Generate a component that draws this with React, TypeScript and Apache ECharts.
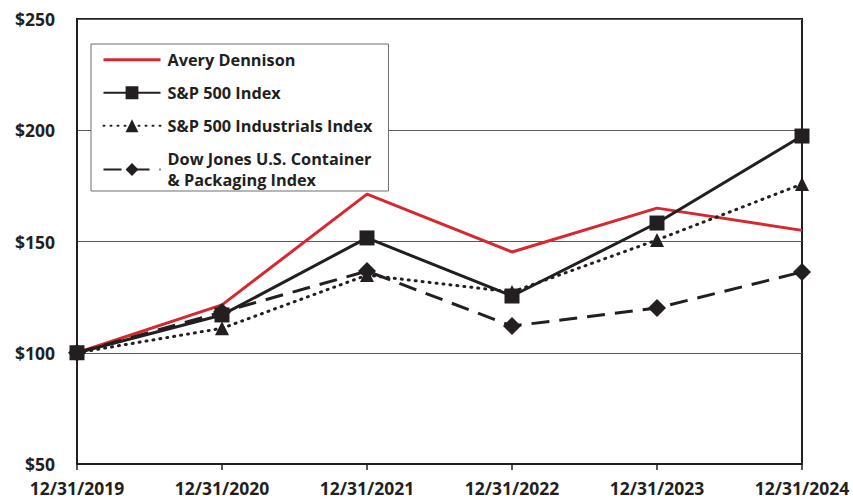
import React, { useEffect, useRef } from "react";
import * as echarts from "echarts";

const categories = ["12/31/2019", "12/31/2020", "12/31/2021", "12/31/2022", "12/31/2023", "12/31/2024"];
const avery = [100, 121.5, 171.3, 145.3, 165, 155];
const sp500 = [100, 117, 151.6, 125.5, 158.3, 197.4];
const spIndustrials = [100, 111, 134.9, 127.3, 150.7, 175.8];
const dowJonesContainer = [100, 118.3, 136.7, 112, 120.1, 136.3];

const FONT = "Open Sans";

export default function App() {
  const ref = useRef<HTMLDivElement>(null);
  useEffect(() => {
    if (!ref.current) return;
    const chart = echarts.init(ref.current, undefined, { renderer: "svg" });
    chart.setOption({
      animation: false,
      backgroundColor: "#ffffff",
      textStyle: { fontFamily: FONT },
      grid: {
        left: 77,
        right: 51,
        top: 19,
        bottom: 38,
        show: true,
        borderColor: "#231f20",
        borderWidth: 2,
        containLabel: false,
      },
      legend: {
        orient: "vertical",
        left: 91,
        top: 44,
        padding: [5, 16, 0, 11],
        itemGap: 11.5,
        itemWidth: 57,
        itemHeight: 16,
        backgroundColor: "#ffffff",
        borderColor: "#6d6e71",
        borderWidth: 1,
        textStyle: {
          fontFamily: FONT,
          fontWeight: "bold",
          fontSize: 16.3,
          color: "#231f20",
          padding: [0, 0, 0, 2],
          lineHeight: 21.5,
        },
        formatter: (name: string) =>
          name === "Dow Jones U.S. Container & Packaging Index"
            ? "Dow Jones U.S. Container\n& Packaging Index"
            : name,
        data: [
          { name: "Avery Dennison", itemStyle: { opacity: 0 }, lineStyle: { width: 3, opacity: 1, color: "#d7282f" } },
          "S&P 500 Index",
          "S&P 500 Industrials Index",
          "Dow Jones U.S. Container & Packaging Index",
        ],
      },
      xAxis: {
        type: "category",
        data: categories,
        boundaryGap: false,
        axisLine: { show: true, lineStyle: { color: "#231f20", width: 2 } },
        axisTick: { show: true, length: 6, lineStyle: { color: "#231f20", width: 1.5 } },
        axisLabel: {
          fontFamily: FONT,
          fontWeight: "bold",
          fontSize: 17.5,
          color: "#231f20",
          margin: 15,
          interval: 0,
        },
        splitLine: { show: false },
      },
      yAxis: {
        type: "value",
        min: 50,
        max: 250,
        interval: 50,
        axisLine: { show: true, lineStyle: { color: "#231f20", width: 2 } },
        axisTick: { show: false },
        axisLabel: {
          fontFamily: FONT,
          fontWeight: "bold",
          fontSize: 17.5,
          color: "#231f20",
          margin: 22,
          formatter: (v: number) => "$" + v,
        },
        splitLine: { show: true, lineStyle: { color: "#58595b", width: 1 } },
      },
      series: [
        {
          name: "Avery Dennison",
          type: "line",
          data: avery,
          symbol: "none",
          z: 2,
          lineStyle: { color: "#d7282f", width: 3 },
          itemStyle: { color: "#d7282f" },
        },
        {
          name: "S&P 500 Index",
          type: "line",
          data: sp500,
          symbol: "rect",
          symbolSize: 15,
          z: 3,
          lineStyle: { color: "#231f20", width: 3 },
          itemStyle: { color: "#231f20" },
        },
        {
          name: "S&P 500 Industrials Index",
          type: "line",
          data: spIndustrials,
          symbol: "triangle",
          symbolSize: 14,
          z: 3,
          lineStyle: { color: "#231f20", width: 3, type: [1, 6], cap: "round" },
          itemStyle: { color: "#231f20" },
        },
        {
          name: "Dow Jones U.S. Container & Packaging Index",
          type: "line",
          data: dowJonesContainer,
          symbol: "diamond",
          symbolSize: 18,
          z: 3,
          lineStyle: { color: "#231f20", width: 3, type: [18, 10] },
          itemStyle: { color: "#231f20" },
        },
      ],
    });
    return () => chart.dispose();
  }, []);
  return (
    <div
      ref={ref}
      style={{ position: "fixed", left: 0, top: 0, width: 853, height: 502 }}
    />
  );
}
